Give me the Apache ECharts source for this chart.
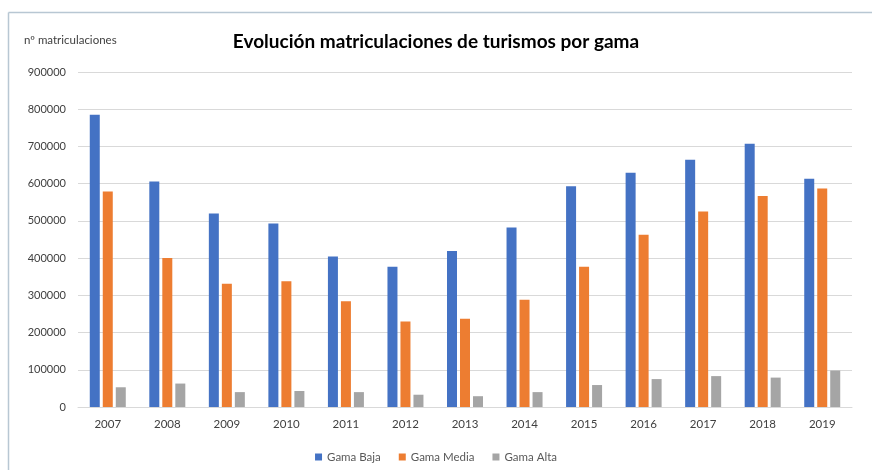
<!DOCTYPE html>
<html>
<head>
<meta charset="utf-8">
<script src="https://cdn.jsdelivr.net/npm/echarts@6/dist/echarts.min.js"></script>
<style>html,body{margin:0;padding:0;background:#fff}#c{width:872px;height:470px}</style>
</head>
<body>
<div id="c"></div>
<script>
const categories = ['2007','2008','2009','2010','2011','2012','2013','2014','2015','2016','2017','2018','2019'];
const gamaBaja  = [785000, 606000, 520000, 493000, 404000, 377000, 419000, 482000, 593000, 629000, 664000, 707000, 613000];
const gamaMedia = [579000, 400000, 331000, 338000, 284000, 230000, 237000, 288000, 377000, 463000, 525000, 567000, 587000];
const gamaAlta  = [53000, 63000, 40000, 43000, 40000, 33000, 29000, 40000, 59000, 75000, 83000, 79000, 98000];
const seriesNames = ['Gama Baja', 'Gama Media', 'Gama Alta'];
const titleText = 'Evolución matriculaciones de turismos por gama';
const yName = 'nº matriculaciones';

const chart = echarts.init(document.getElementById('c'), null, {renderer: 'canvas'});
const font = 'Lato, "Open Sans", sans-serif';
const colors = ['#4472C4', '#ED7D31', '#A5A5A5'];
const mk = (name, data, i) => ({
  name, type: 'bar', data, barWidth: 10, barGap: '30%',
  itemStyle: {color: colors[i]}
});
chart.setOption({
  animation: false,
  textStyle: {fontFamily: font},
  title: {
    text: titleText, left: 'center', top: 27,
    textStyle: {fontSize: 19, fontWeight: 'bold', color: '#000', fontFamily: font}
  },
  graphic: [
    {type: 'line', shape: {x1: 8.5, y1: 12.5, x2: 872, y2: 12.5}, style: {stroke: '#b8c7d3', lineWidth: 1.5}},
    {type: 'line', shape: {x1: 8.5, y1: 12.5, x2: 8.5, y2: 470}, style: {stroke: '#b8c7d3', lineWidth: 1.5}},
    {type: 'text', left: 24, top: 34, style: {text: yName, fontSize: 11.5, fill: '#404040', fontFamily: font}}
  ],
  legend: {
    data: seriesNames, left: 'center', top: 446, icon: 'rect',
    itemWidth: 7, itemHeight: 7, itemGap: 18,
    textStyle: {fontSize: 11.5, color: '#595959', fontFamily: font}
  },
  grid: {left: 78, right: 20, top: 72, bottom: 63},
  xAxis: {
    type: 'category', data: categories,
    axisLine: {lineStyle: {color: '#d9d9d9'}},
    axisTick: {show: false},
    axisLabel: {fontSize: 11.5, color: '#404040', margin: 11, fontFamily: font}
  },
  yAxis: {
    type: 'value', min: 0, max: 900000, interval: 100000,
    axisLine: {show: false}, axisTick: {show: false},
    splitLine: {lineStyle: {color: '#d9d9d9'}},
    axisLabel: {fontSize: 11, color: '#404040', margin: 12, fontFamily: font, formatter: v => String(v)}
  },
  series: [mk(seriesNames[0], gamaBaja, 0), mk(seriesNames[1], gamaMedia, 1), mk(seriesNames[2], gamaAlta, 2)]
});
</script>
</body>
</html>
